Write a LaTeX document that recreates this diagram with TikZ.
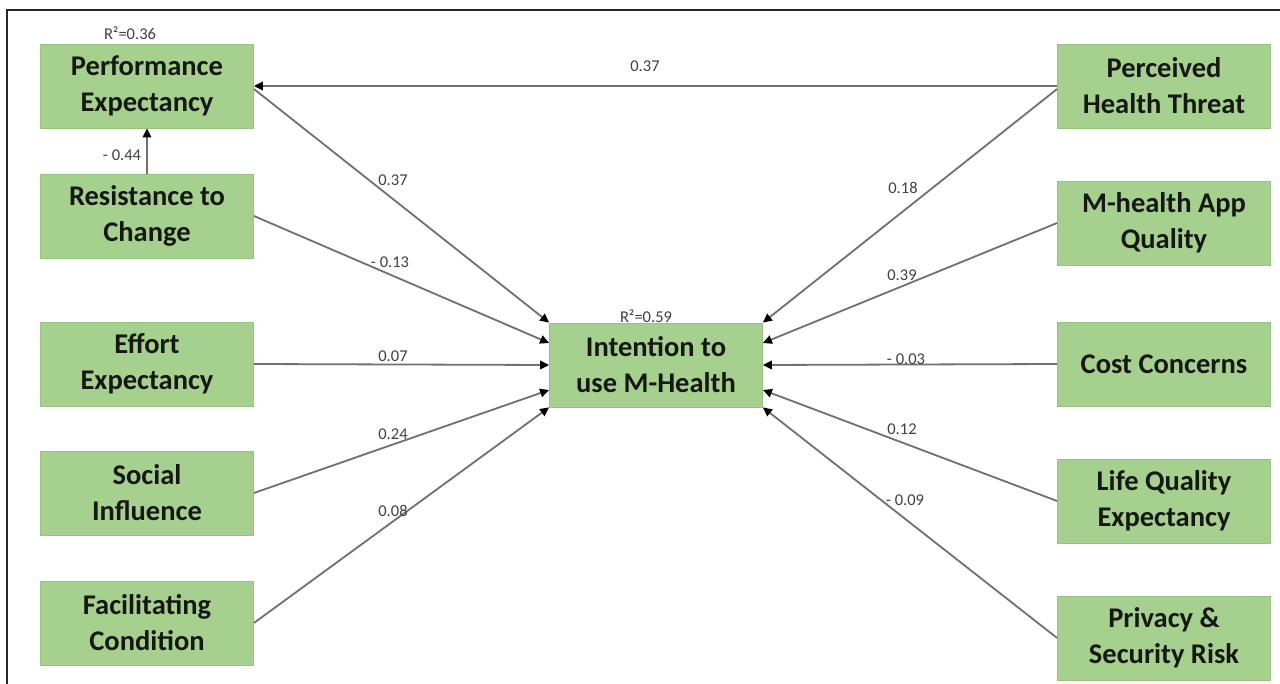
\documentclass[tikz,border=0pt]{standalone}
\usepackage{fontspec}
\setmainfont{Carlito}
\usetikzlibrary{arrows.meta,calc}
\definecolor{boxfill}{RGB}{166,208,141}
\definecolor{boxline}{RGB}{150,196,126}
\definecolor{linegray}{RGB}{112,112,112}
\definecolor{labgray}{RGB}{65,65,65}
\definecolor{textdark}{RGB}{22,24,22}
\tikzset{
  box/.style={draw=boxline, line width=0.8pt, fill=boxfill, minimum width=213pt, minimum height=84pt,
    align=center, inner sep=0pt, text=textdark, font=\fontsize{28.5}{36}\selectfont\bfseries},
  lab/.style={font=\fontsize{16.5}{18}\selectfont, text=labgray, inner sep=1pt},
  conn/.style={draw=linegray, line width=1.8pt, -{Triangle[length=9pt,width=8.5pt,color=black]}},
  frameline/.style={draw=black!85, line width=2pt}
}
\begin{document}
\begin{tikzpicture}[x=1pt,y=-1pt]
\useasboundingbox (0,0) rectangle (1280,684);
\fill[white] (0,0) rectangle (1280,684);
\coordinate (f1) at (7,684);
\coordinate (f2) at (7,10);
\coordinate (f3) at (1280,10);
\draw[frameline] (f1) -- (f2) -- (f3);

% left column
\node[box] (pe)  at (147,86)  {Performance\\Expectancy};
\node[box] (rtc) at (147,216) {Resistance to\\Change};
\node[box] (ee)  at (147,364) {Effort\\Expectancy};
\node[box] (si)  at (147,493) {Social\\Influence};
\node[box] (fc)  at (147,623) {Facilitating\\Condition};
% centre
\node[box] (int) at (656,365) {Intention to\\use M-Health};
% right column
\node[box] (pht) at (1164,86)  {Perceived\\Health Threat};
\node[box] (maq) at (1164,223) {M-health App\\Quality};
\node[box] (cc)  at (1164,364) {Cost Concerns};
\node[box] (lqe) at (1164,501) {Life Quality\\Expectancy};
\node[box] (psr) at (1164,638) {Privacy \&\\Security Risk};

% connectors
\draw[conn] (pht.west) -- (pe.east);
\draw[conn] ($(pe.east)+(0,3)$) -- (int.north west);
\draw[conn] (rtc.north) -- (pe.south);
\draw[conn] (rtc.east) -- ($(int.west)+(0,-22)$);
\draw[conn] (ee.east) -- (int.west);
\draw[conn] (si.east) -- ($(int.west)+(0,25)$);
\draw[conn] (fc.east) -- (int.south west);
\draw[conn] ($(pht.west)+(0,3)$) -- (int.north east);
\draw[conn] (maq.west) -- ($(int.east)+(0,-22)$);
\draw[conn] (cc.west) -- (int.east);
\draw[conn] (lqe.west) -- ($(int.east)+(0,25)$);
\draw[conn] (psr.west) -- (int.south east);

% labels
\node[lab] (r1) at (130,33) {R²=0.36};
\node[lab] (r2) at (646,316) {R²=0.59};
\node[lab] (l1) at (645,66) {0.37};
\node[lab] (l2) at (122,155) {- 0.44};
\node[lab] (l3) at (393,180) {0.37};
\node[lab] (l4) at (390,262) {- 0.13};
\node[lab] (l5) at (393,356) {0.07};
\node[lab] (l6) at (393,434) {0.24};
\node[lab] (l7) at (393,511) {0.08};
\node[lab] (l8) at (903,188) {0.18};
\node[lab] (l9) at (902,275) {0.39};
\node[lab] (l10) at (906,359) {- 0.03};
\node[lab] (l11) at (902,429) {0.12};
\node[lab] (l12) at (905,500) {- 0.09};
\end{tikzpicture}
\end{document}
